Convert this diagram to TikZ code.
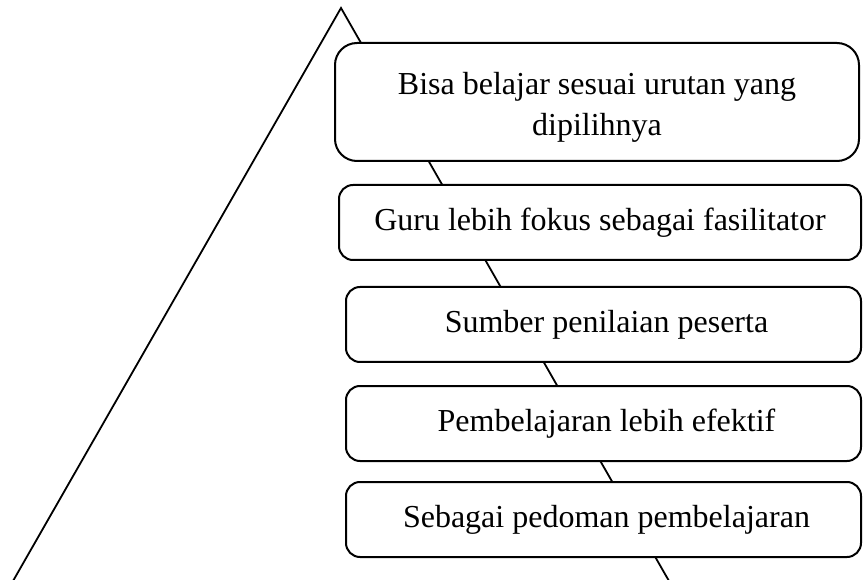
\documentclass[tikz,border=0pt]{standalone}
\usepackage{fontspec}
\setmainfont{Liberation Serif}
\begin{document}
\begin{tikzpicture}[x=1pt,y=-1pt,
  box/.style={draw=black, line width=2pt, fill=white, rounded corners=14pt, inner sep=0pt, align=center,
    font=\fontsize{32}{40}\selectfont},
  txt/.style={inner sep=0pt, align=center, font=\fontsize{32}{41}\selectfont},
  edge/.style={line width=1.8pt}]
\useasboundingbox (0,0) rectangle (863,580);
\coordinate (apex) at (341,8);
\coordinate (bl) at (13,581);
\coordinate (br) at (669,581);
\draw[edge] (bl) -- (apex) -- (br);
\node[box, rounded corners=22pt, minimum width=524pt, minimum height=118pt] (b1) at (597,102) {};
\node[txt] (b1t) at (597,107) {Bisa belajar sesuai urutan yang\\dipilihnya};
\node[box, minimum width=522pt, minimum height=75pt] (b2) at (600,222.5) {Guru lebih fokus sebagai fasilitator};
\node[box, minimum width=515pt, minimum height=75pt] (b3) at (603.5,324.5) {\hspace*{6pt}Sumber penilaian peserta};
\node[box, minimum width=515pt, minimum height=75pt] (b4) at (603.5,423.5) {\hspace*{6pt}Pembelajaran lebih efektif};
\node[box, minimum width=515pt, minimum height=75pt] (b5) at (603.5,519.5) {\hspace*{6pt}Sebagai pedoman pembelajaran};
\end{tikzpicture}
\end{document}
